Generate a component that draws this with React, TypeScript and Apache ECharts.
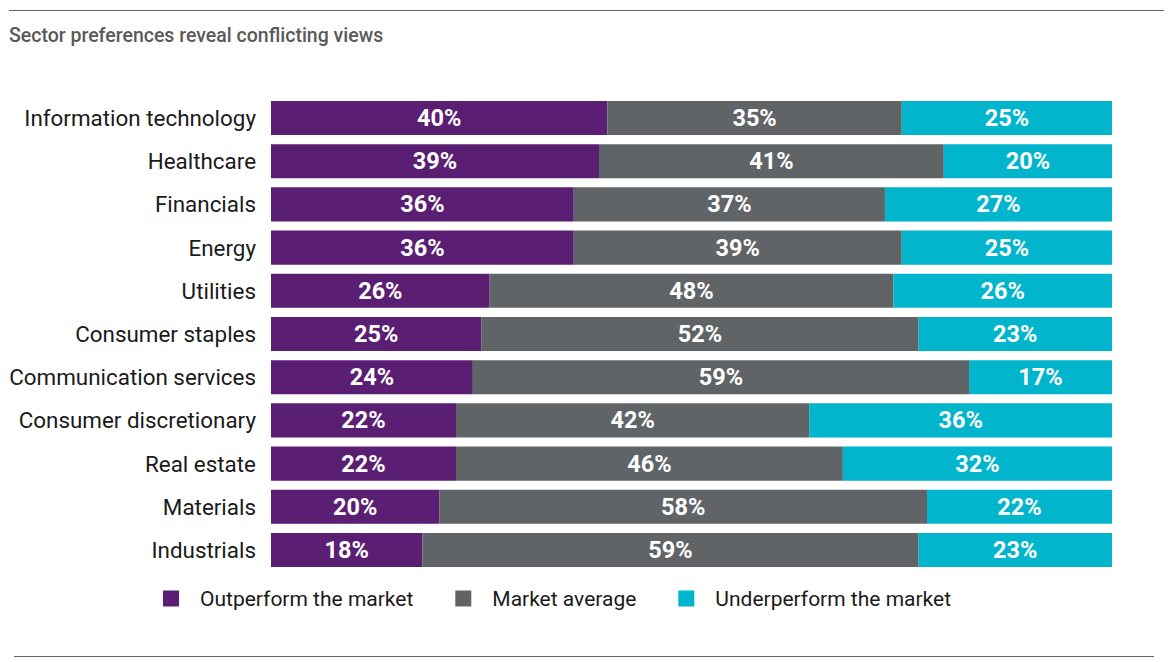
import React, { useEffect, useRef } from "react";
import * as echarts from "echarts";

const categories = [
  "Information technology",
  "Healthcare",
  "Financials",
  "Energy",
  "Utilities",
  "Consumer staples",
  "Communication services",
  "Consumer discretionary",
  "Real estate",
  "Materials",
  "Industrials",
];
const outperform = [40, 39, 36, 36, 26, 25, 24, 22, 22, 20, 18];
const average = [35, 41, 37, 39, 48, 52, 59, 42, 46, 58, 59];
const underperform = [25, 20, 27, 25, 26, 23, 17, 36, 32, 22, 23];
const seriesNames = ["Outperform the market", "Market average", "Underperform the market"];
const colors = ["#5a1e73", "#606467", "#00b5cc"];

export default function App() {
  const ref = useRef<HTMLDivElement>(null);
  useEffect(() => {
    if (!ref.current) return;
    const chart = echarts.init(ref.current, null, { renderer: "svg" });
    const data = [outperform, average, underperform];
    chart.setOption({
      animation: false,
      title: {
        text: "Sector preferences reveal conflicting views",
        left: 9,
        top: 25,
        padding: 0,
        textStyle: { fontFamily: "Roboto", fontSize: 19.5, fontWeight: 500, color: "#595959" },
      },
      legend: {
        top: 588,
        left: 163,
        padding: 0,
        itemWidth: 16,
        itemHeight: 16,
        itemGap: 42,
        icon: "rect",
        textStyle: { fontFamily: "Roboto", fontSize: 21, color: "#1a1a1a", padding: [0, 0, 0, 16] },
        data: seriesNames,
      },
      grid: { left: 271, right: 56, top: 96.4, bottom: 90.4, containLabel: false },
      xAxis: { type: "value", min: 0, max: 100, show: false },
      yAxis: {
        type: "category",
        data: categories,
        inverse: true,
        axisLine: { show: false },
        axisTick: { show: false },
        axisLabel: {
          fontFamily: "Roboto",
          fontSize: 22.4,
          color: "#1a1a1a",
          margin: 15,
          padding: [4, 0, 0, 0],
        },
      },
      series: seriesNames.map((name, i) => ({
        name,
        type: "bar",
        stack: "total",
        barCategoryGap: "21%",
        itemStyle: { color: colors[i] },
        label: {
          show: true,
          position: "inside",
          formatter: "{c}%",
          color: "#ffffff",
          fontFamily: "Roboto",
          fontSize: 23.5,
          fontWeight: "bold",
          padding: [2, 0, 0, 0],
        },
        data: data[i],
      })),
      graphic: [
        { type: "line", shape: { x1: 9, y1: 10.5, x2: 1164, y2: 10.5 }, style: { stroke: "#666666", lineWidth: 1.2 } },
        { type: "line", shape: { x1: 14, y1: 656.5, x2: 1154, y2: 656.5 }, style: { stroke: "#666666", lineWidth: 1.2 } },
      ],
    });
    return () => chart.dispose();
  }, []);
  return <div ref={ref} style={{ width: 1168, height: 662, position: "absolute", left: 0, top: 0 }} />;
}
